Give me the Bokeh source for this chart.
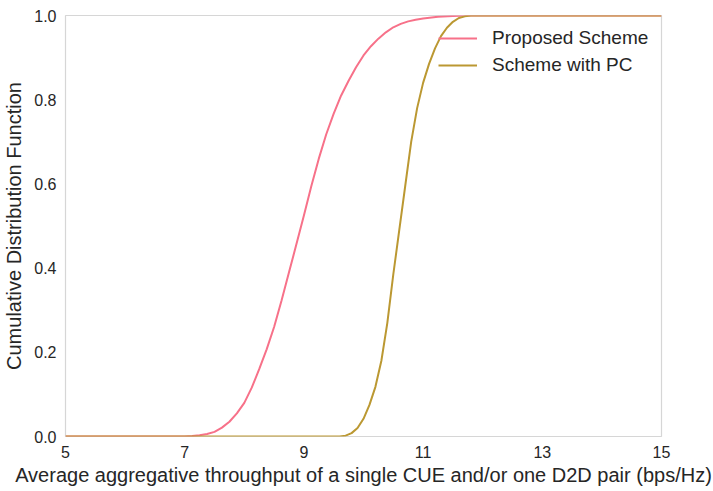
from bokeh.plotting import figure
from bokeh.embed import file_html
from bokeh.resources import INLINE
from bokeh.models import FixedTicker, NumeralTickFormatter, Range1d, Legend, LegendItem

# Data
proposed_x = [5.0, 7.0, 7.125, 7.25, 7.375, 7.5, 7.625, 7.75, 7.875, 8.0, 8.125, 8.25, 8.375,
              8.5, 8.625, 8.75, 8.875, 9.0, 9.125, 9.25, 9.375, 9.5, 9.625, 9.75, 9.875,
              10.0, 10.125, 10.25, 10.375, 10.5, 10.625, 10.75, 10.875, 11.0, 11.25, 11.5,
              11.75, 15.0]
proposed_y = [0.0, 0.0, 0.001, 0.003, 0.006, 0.011, 0.021, 0.035, 0.055, 0.08, 0.116, 0.16, 0.207,
              0.26, 0.323, 0.39, 0.457, 0.525, 0.595, 0.66, 0.718, 0.767, 0.81, 0.845, 0.877,
              0.905, 0.927, 0.945, 0.96, 0.972, 0.98, 0.986, 0.99, 0.993, 0.997, 0.999,
              1.0, 1.0]

pc_x = [5.0, 9.6, 9.7, 9.8, 9.9, 10.0, 10.1, 10.2, 10.3, 10.4, 10.5, 10.6, 10.7, 10.8, 10.9,
        11.0, 11.1, 11.2, 11.3, 11.4, 11.5, 11.6, 11.7, 11.8, 15.0]
pc_y = [0.0, 0.0, 0.002, 0.008, 0.02, 0.042, 0.075, 0.118, 0.18, 0.27, 0.385, 0.49, 0.595, 0.70, 0.78,
        0.84, 0.885, 0.922, 0.951, 0.971, 0.985, 0.994, 0.998, 1.0, 1.0]

x_ticks = [5, 7, 9, 11, 13, 15]
y_ticks = [0.0, 0.2, 0.4, 0.6, 0.8, 1.0]
series_names = ["Proposed Scheme", "Scheme with PC"]
series_colors = ["#f77189", "#bb9832"]

FONT = "Liberation Sans"
TEXT = "#262626"

p = figure(width=713, height=491, output_backend="svg", toolbar_location=None,
           x_range=Range1d(5, 15), y_range=Range1d(0, 1.0),
           min_border_left=65, min_border_top=15, min_border_right=52, min_border_bottom=55)

p.background_fill_color = "white"
p.border_fill_color = "white"
p.outline_line_color = "#d6d6d6"
p.outline_line_width = 1.2
p.xgrid.visible = False
p.ygrid.visible = False

r1 = p.line(proposed_x, proposed_y, line_color=series_colors[0], line_width=2)
r2 = p.line(pc_x, pc_y, line_color=series_colors[1], line_width=2)

for ax in (p.xaxis[0], p.yaxis[0]):
    ax.axis_line_color = None
    ax.major_tick_line_color = None
    ax.minor_tick_line_color = None
    ax.major_tick_out = 0
    ax.major_tick_in = 0
    ax.major_label_text_font = FONT
    ax.major_label_text_font_size = "16px"
    ax.major_label_text_color = TEXT
    ax.axis_label_text_font = FONT
    ax.axis_label_text_font_size = "20px"
    ax.axis_label_text_font_style = "normal"
    ax.axis_label_text_color = TEXT

p.xaxis[0].ticker = FixedTicker(ticks=x_ticks)
p.yaxis[0].ticker = FixedTicker(ticks=y_ticks)
p.yaxis[0].formatter = NumeralTickFormatter(format="0.0")
p.xaxis[0].axis_label = "Average aggregative throughput of a single CUE and/or one D2D pair (bps/Hz)"
p.yaxis[0].axis_label = "Cumulative Distribution Function"
p.xaxis[0].major_label_standoff = 9
p.yaxis[0].major_label_standoff = 9
p.xaxis[0].axis_label_standoff = 3
p.yaxis[0].axis_label_standoff = 6

legend = Legend(items=[LegendItem(label=series_names[0], renderers=[r1]),
                       LegendItem(label=series_names[1], renderers=[r2])],
                location=(373, 359))
legend.background_fill_alpha = 0
legend.border_line_color = None
legend.label_text_font = FONT
legend.label_text_font_size = "19px"
legend.label_text_color = TEXT
legend.glyph_width = 39
legend.glyph_height = 24
legend.label_height = 24
legend.label_standoff = 15
legend.spacing = 3
legend.padding = 8
legend.margin = 0
p.add_layout(legend, "center")

open("out.html", "w").write(file_html(p, INLINE))
